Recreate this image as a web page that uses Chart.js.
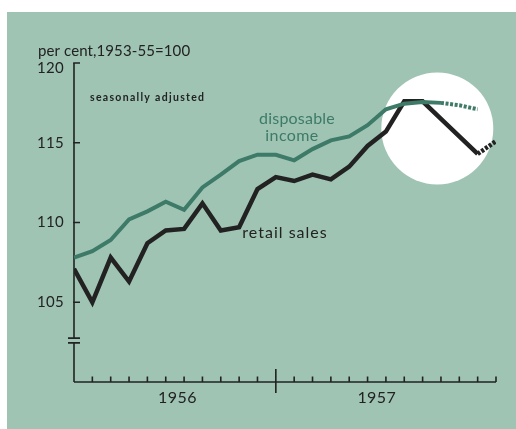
<!DOCTYPE html>
<html>
<head>
<meta charset="utf-8">
<script src="https://cdn.jsdelivr.net/npm/chart.js@4/dist/chart.umd.min.js"></script>
<style>
  html, body { margin: 0; padding: 0; background: #ffffff; }
  canvas { display: block; }
</style>
</head>
<body>
<canvas id="c" width="516" height="429"></canvas>
<script>
// Months from January 1956 to December 1957, one point per month
const months = ['Jan 56','Feb 56','Mar 56','Apr 56','May 56','Jun 56','Jul 56','Aug 56','Sep 56','Oct 56','Nov 56','Dec 56',
                'Jan 57','Feb 57','Mar 57','Apr 57','May 57','Jun 57','Jul 57','Aug 57','Sep 57','Oct 57','Nov 57','Dec 57'];

// Index values, 1953-55 = 100, seasonally adjusted
const disposableIncome = [107.8, 108.2, 108.9, 110.2, 110.7, 111.3, 110.8, 112.2, 113.0, 113.85, 114.25, 114.25,
                          113.9, 114.6, 115.15, 115.4, 116.1, 117.1, 117.45, 117.55, 117.5, 117.35, 117.1];
const retailSales = [107.1, 105.0, 107.8, 106.3, 108.7, 109.5, 109.6, 111.2, 109.5, 109.7, 112.1, 112.85,
                     112.6, 113.0, 112.7, 113.5, 114.8, 115.7, 117.6, 117.6, 116.5, 115.4, 114.3, 115.1];

// Preliminary estimates start at these indices (drawn dotted)
const incomePrelimFrom = 20;
const salesPrelimFrom = 22;

const yTickValues = [105, 110, 115, 120];
const years = ['1956', '1957'];
const yearLabelAt = [5.64, 16.5];   // label centres, in month-index units
const yearBoundary = 11;            // long tick between the two years

const BG = '#9fc4b4';
const INK = '#222222';
const TEAL = '#3d7a67';
const FONT = 'Lato, "Open Sans", sans-serif';

const toXY = arr => arr.map((v, i) => ({ x: i, y: v }));

function label(ctx, text, x, y, spacing) {
  ctx.letterSpacing = (spacing || 0) + 'px';
  ctx.fillText(text, x, y);
  ctx.letterSpacing = '0px';
}

const decor = {
  id: 'decor',
  beforeDraw(chart) {
    const ctx = chart.ctx;
    ctx.save();
    ctx.fillStyle = '#ffffff';
    ctx.fillRect(0, 0, chart.width, chart.height);
    ctx.fillStyle = BG;
    ctx.fillRect(7, 12, chart.width - 7, chart.height - 12);
    ctx.restore();
  },
  beforeDatasetsDraw(chart) {
    const ctx = chart.ctx;
    const xs = chart.scales.x, ys = chart.scales.y;
    const left = xs.getPixelForValue(0);
    const right = xs.getPixelForValue(xs.max);
    const top = ys.getPixelForValue(ys.max);
    const bottom = ys.getPixelForValue(ys.min);
    ctx.save();

    // white spotlight around the latest months
    ctx.fillStyle = '#ffffff';
    ctx.beginPath();
    ctx.arc(xs.getPixelForValue(19.8), ys.getPixelForValue(115.9), 56, 0, Math.PI * 2);
    ctx.fill();

    ctx.strokeStyle = INK;
    ctx.lineWidth = 1.6;
    ctx.lineCap = 'butt';

    // vertical axis, broken just above the baseline
    const breakHi = ys.getPixelForValue(102.75);
    const breakLo = ys.getPixelForValue(102.45);
    ctx.beginPath();
    ctx.moveTo(left, top); ctx.lineTo(left, breakHi);
    ctx.moveTo(left, breakLo); ctx.lineTo(left, bottom);
    ctx.moveTo(left - 6, breakHi); ctx.lineTo(left + 6, breakHi);
    ctx.moveTo(left - 6, breakLo); ctx.lineTo(left + 6, breakLo);
    ctx.stroke();

    // value ticks point inward
    ctx.beginPath();
    yTickValues.forEach(v => {
      const y = ys.getPixelForValue(v);
      ctx.moveTo(left - 0.8, y); ctx.lineTo(left + 6, y);
    });
    ctx.stroke();

    // horizontal axis with monthly ticks
    ctx.beginPath();
    ctx.moveTo(left, bottom); ctx.lineTo(right, bottom);
    for (let i = 1; i <= xs.max; i++) {
      const x = xs.getPixelForValue(i);
      if (i === yearBoundary) {
        ctx.moveTo(x, bottom - 13); ctx.lineTo(x, bottom + 11);
      } else {
        ctx.moveTo(x, bottom); ctx.lineTo(x, bottom - 5.5);
      }
    }
    ctx.stroke();

    // tick labels
    ctx.fillStyle = INK;
    ctx.font = '15px ' + FONT;
    ctx.textAlign = 'right';
    ctx.textBaseline = 'middle';
    yTickValues.forEach(v => {
      let y = ys.getPixelForValue(v);
      if (v === ys.max) y += 5;
      label(ctx, String(v), left - 10, y, 0.3);
    });
    ctx.textAlign = 'center';
    ctx.font = '16px ' + FONT;
    years.forEach((t, i) => {
      label(ctx, t, xs.getPixelForValue(yearLabelAt[i]), bottom + 16, 0.4);
    });

    // titles and series labels
    ctx.textAlign = 'left';
    ctx.font = '15px ' + FONT;
    label(ctx, 'per cent,1953-55=100', 38, 51, 0.1);
    ctx.font = 'bold 10.5px ' + FONT;
    label(ctx, 'seasonally adjusted', 90, 98, 1.3);

    ctx.textAlign = 'center';
    ctx.font = '16px ' + FONT;
    ctx.fillStyle = TEAL;
    label(ctx, 'disposable', 297, 119, 0.2);
    label(ctx, 'income', 292, 136, 0.4);
    ctx.fillStyle = INK;
    label(ctx, 'retail sales', 285, 233, 1.0);
    ctx.restore();
  }
};

new Chart(document.getElementById('c'), {
  type: 'line',
  data: {
    labels: months,
    datasets: [
      {
        label: 'disposable income',
        data: toXY(disposableIncome),
        borderColor: TEAL,
        borderWidth: 4,
        borderJoinStyle: 'miter',
        pointRadius: 0,
        tension: 0,
        segment: { borderDash: c => c.p0DataIndex >= incomePrelimFrom ? [3, 1.6] : undefined }
      },
      {
        label: 'retail sales',
        data: toXY(retailSales),
        borderColor: INK,
        borderWidth: 4.5,
        borderJoinStyle: 'miter',
        pointRadius: 0,
        tension: 0,
        segment: { borderDash: c => c.p0DataIndex >= salesPrelimFrom ? [3, 1.6] : undefined }
      }
    ]
  },
  options: {
    responsive: false,
    animation: false,
    layout: { padding: { left: 74, right: 20, top: 63, bottom: 47 } },
    scales: {
      x: { type: 'linear', min: 0, max: months.length - 1, display: false },
      y: { type: 'linear', min: 100, max: 120, display: false }
    },
    plugins: { legend: { display: false }, tooltip: { enabled: false } }
  },
  plugins: [decor]
});
</script>
</body>
</html>
